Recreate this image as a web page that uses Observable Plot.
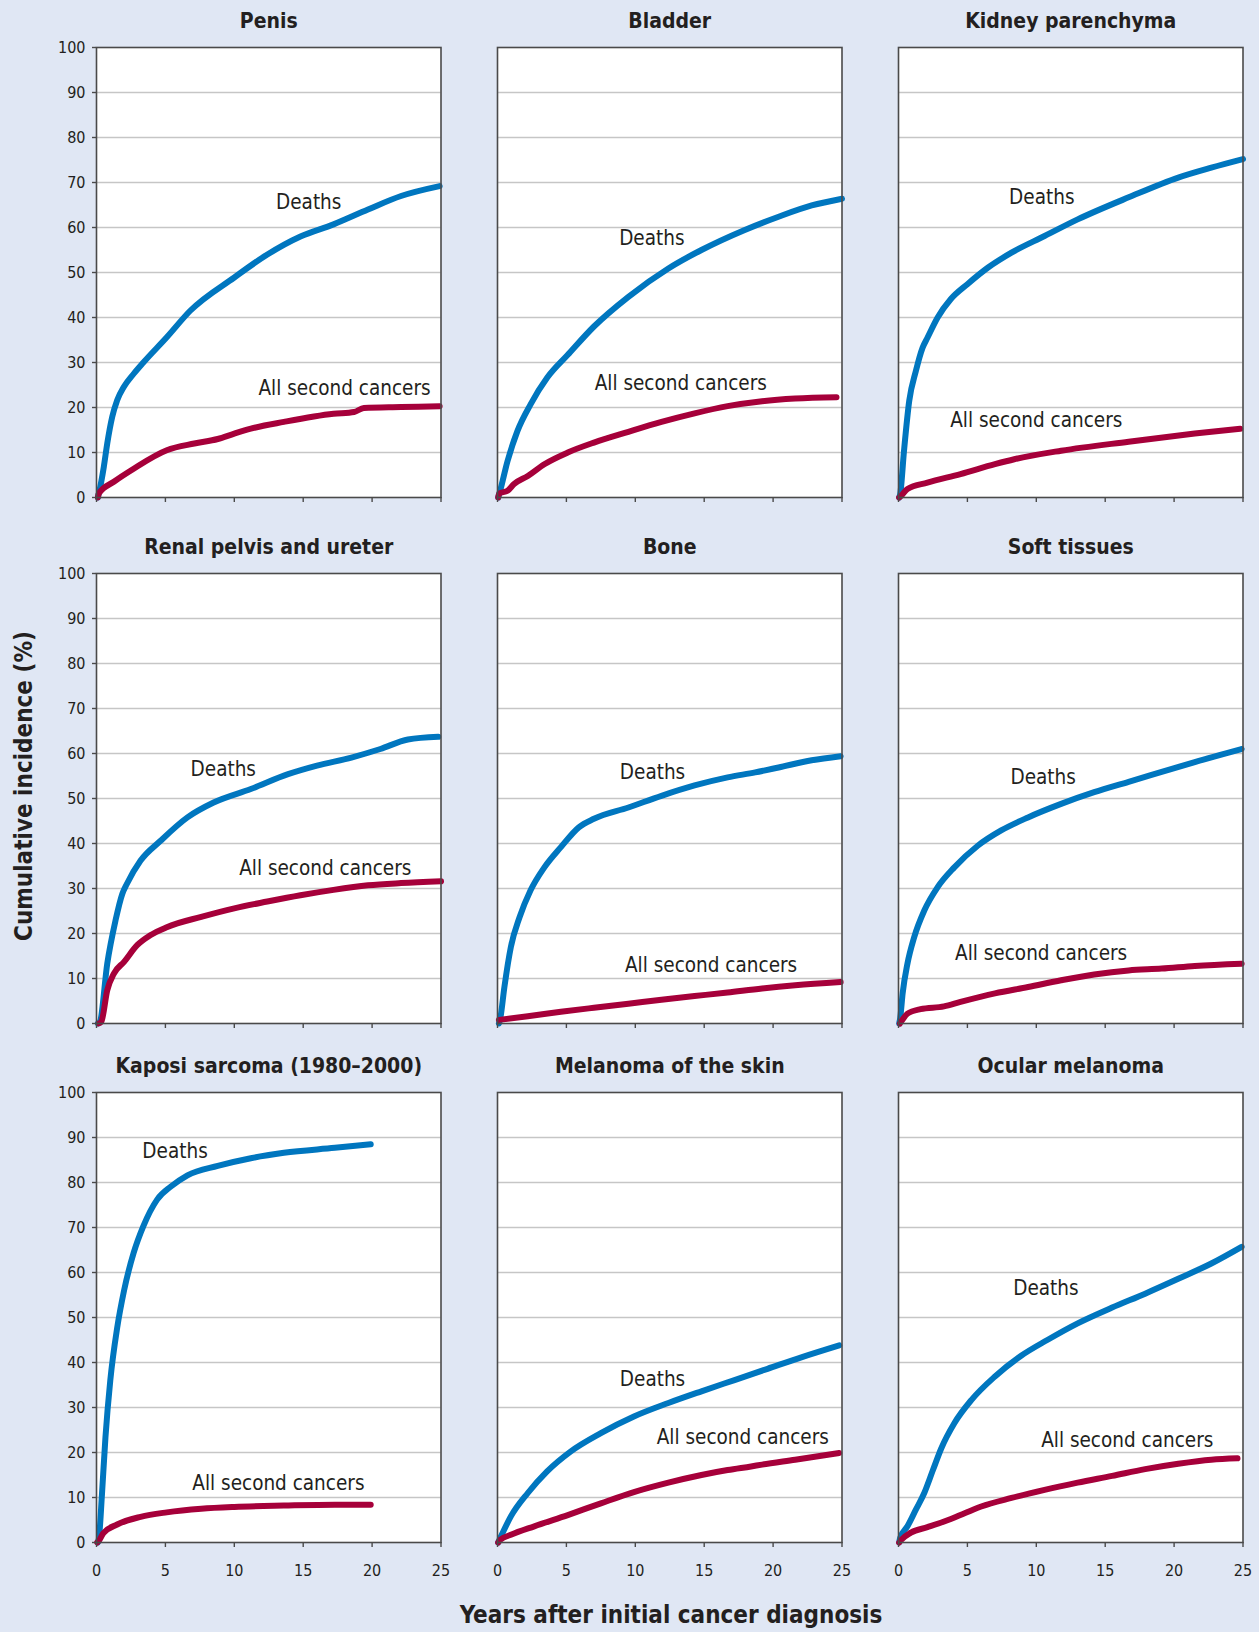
<!DOCTYPE html>
<html>
<head>
<meta charset="utf-8">
<script src="https://cdn.jsdelivr.net/npm/d3@7"></script>
<script src="https://cdn.jsdelivr.net/npm/@observablehq/plot@0.6"></script>
<style>
  html, body { margin: 0; padding: 0; background: #e0e7f4; }
  #wrap { position: relative; width: 1259px; height: 1632px; background: #e0e7f4; overflow: hidden;
          font-family: "Liberation Sans Narrow", "DejaVu Sans Condensed", "Roboto", sans-serif; font-stretch: condensed; }
  .panel { position: absolute; }
  .ylab { position: absolute; left: 24px; top: 786px; transform: translate(-50%, -50%) rotate(-90deg);
          white-space: nowrap; font-weight: bold; font-size: 24px; color: #231f20; }
  .xlab { position: absolute; left: 671px; top: 1615px; transform: translate(-50%, -50%);
          white-space: nowrap; font-weight: bold; font-size: 24px; color: #231f20; }
</style>
</head>
<body>
<div id="wrap">
  <div class="ylab">Cumulative incidence (%)</div>
  <div class="xlab">Years after initial cancer diagnosis</div>
</div>
<script>
// ---- Data: [years after diagnosis, cumulative incidence %] ----
const panelTitles = ["Penis", "Bladder", "Kidney parenchyma",
  "Renal pelvis and ureter", "Bone", "Soft tissues",
  "Kaposi sarcoma (1980\u20132000)", "Melanoma of the skin", "Ocular melanoma"];

const penisDeaths = [[0.1,0],[0.17,0.9],[0.53,6.8],[0.78,12],[1.14,17.9],[1.5,21.6],[1.99,24.6],[2.7,27.5],[3.4,30],[5.1,35.6],[6.8,41.5],[10,48.9],[12.4,54],[14.8,58],[17.2,60.7],[19.7,64],[22.1,67],[24.9,69.2]];
const penisSecond = [[0.1,0],[0.17,0.9],[1.26,3.5],[2.7,6.4],[5.1,10.5],[7.1,12],[8.8,13],[10,14.2],[11.2,15.3],[13.6,16.8],[17.2,18.6],[18.7,19.0],[19.4,19.9],[22.1,20.1],[24.9,20.3]];

const bladderDeaths = [[0.05,0],[0.12,0.7],[0.73,8.1],[1.45,14.8],[2.4,20.7],[3.6,26.6],[5.1,31.7],[7.0,38],[9.5,44.6],[12.4,50.9],[14.8,55],[17.9,59.4],[20.4,62.4],[22.8,64.9],[25,66.4]];
const bladderSecond = [[0.05,0],[0.12,0.9],[0.73,1.5],[1.2,3.0],[2.2,4.8],[3.4,7.4],[5.1,10],[7,12.2],[9.5,14.6],[11.9,16.8],[14.3,18.7],[16.7,20.3],[19.2,21.4],[21.6,22],[24.6,22.3]];

const kidneyDeaths = [[0.05,0],[0.12,0.7],[0.4,10.4],[0.78,21.5],[1.26,28.1],[1.75,33.3],[2.1,35.5],[2.84,40],[3.8,44.1],[5.0,47.4],[6.5,51.1],[8.2,54.4],[10.6,58.1],[13.0,61.8],[16.7,66.7],[20.3,71.1],[22.7,73.3],[25,75.2]];
const kidneySecond = [[0.05,0],[0.2,0.4],[0.65,1.9],[2.1,3.3],[4.5,5.2],[7.0,7.4],[8.4,8.5],[11.8,10.4],[16.7,12.4],[21.5,14.2],[24.8,15.3]];

const renalDeaths = [[0.1,0],[0.25,0.4],[0.78,13.3],[1.38,22.9],[1.87,28.8],[2.2,31],[3.2,36.2],[4.65,40.6],[6.6,45.8],[8.5,49.1],[11.2,52.1],[13.9,55.4],[16.0,57.3],[18.5,59.1],[20.6,61],[22.6,63.1],[24.8,63.7]];
const renalSecond = [[0.15,0],[0.35,0.4],[0.78,7.4],[1.26,11.1],[2,13.7],[2.95,17.4],[3.9,19.6],[5.1,21.4],[7.6,23.7],[10.0,25.6],[12.4,27.1],[14.8,28.5],[17.2,29.7],[19.7,30.7],[22.1,31.2],[25,31.6]];

const boneDeaths = [[0.1,0],[0.2,1.1],[0.5,8.1],[0.97,17],[1.6,23.6],[2.4,29.6],[3.4,34.7],[4.6,39.2],[5.9,43.6],[7.0,45.5],[9.5,48],[11.9,50.6],[14.3,52.9],[16.7,54.7],[18.7,55.8],[20.4,56.9],[22.8,58.5],[24.9,59.4]];
const boneSecond = [[0.1,0.8],[2.2,1.6],[4.6,2.6],[7.0,3.5],[9.5,4.4],[11.9,5.3],[14.3,6.1],[16.7,6.9],[19.2,7.8],[21.6,8.5],[24.9,9.2]];

const softDeaths = [[0.05,0],[0.12,1.1],[0.3,6.7],[0.65,13.3],[1.14,19.2],[1.87,25.1],[2.84,30.3],[4.05,34.7],[5.75,39.5],[7.45,42.9],[9.4,45.8],[11.8,48.8],[14.2,51.4],[16.7,53.7],[19.1,55.9],[21.5,58.1],[24.9,61]];
const softSecond = [[0.1,0],[0.3,0.9],[0.65,2.2],[1.6,3.2],[3.3,3.8],[4.5,4.8],[7.0,6.7],[9.4,8.1],[11.8,9.6],[14.2,10.9],[16.7,11.8],[19.1,12.2],[21.5,12.8],[24.9,13.3]];

const kaposiDeaths = [[0.1,0],[0.17,0.8],[0.4,10.9],[0.65,23.4],[1.0,36],[1.5,47.7],[2.0,56],[2.7,64.4],[3.4,70.3],[4.4,76.2],[5.4,79.1],[6.6,81.6],[8.8,83.7],[11.2,85.4],[13.6,86.6],[17.3,87.7],[19.9,88.5]];
const kaposiSecond = [[0.05,0],[0.2,0.5],[0.5,2.1],[1.5,4],[3.2,5.7],[5.1,6.7],[7.6,7.5],[10,7.9],[13.6,8.2],[17.3,8.4],[19.9,8.4]];

const melanomaDeaths = [[0.05,0],[0.2,1],[0.97,5.8],[2.2,11],[3.6,15.8],[5.3,20.2],[7.5,24.3],[9.9,28],[12.4,31],[14.8,33.6],[17.2,36.1],[19.6,38.6],[22.1,41.2],[24.8,43.8]];
const melanomaSecond = [[0.05,0],[0.2,0.6],[0.97,1.7],[2.67,3.6],[5.1,6.1],[7.5,8.7],[9.9,11.2],[12.4,13.3],[14.8,15],[16.7,16.1],[18.4,16.9],[19.2,17.3],[21.6,18.4],[24.8,19.9]];

const ocularDeaths = [[0.05,0],[0.12,1],[0.65,3.6],[1.26,7.3],[1.87,11],[2.5,16.1],[3.1,20.9],[4.05,26.5],[5.3,31.7],[7,36.9],[8.9,41.5],[10.8,45],[13.0,48.7],[15.5,52.2],[17.9,55.3],[20.3,58.6],[22.7,62],[24.9,65.7]];
const ocularSecond = [[0.05,0],[0.2,0.6],[0.9,2.2],[2.1,3.4],[3.6,5],[4.8,6.5],[6,8],[8.2,9.9],[10.6,11.7],[13,13.3],[15.5,14.8],[17.9,16.3],[20.3,17.5],[22.7,18.4],[24.6,18.7]];

const deathsSeries = [penisDeaths, bladderDeaths, kidneyDeaths, renalDeaths, boneDeaths, softDeaths, kaposiDeaths, melanomaDeaths, ocularDeaths];
const secondSeries = [penisSecond, bladderSecond, kidneySecond, renalSecond, boneSecond, softSecond, kaposiSecond, melanomaSecond, ocularSecond];

// label anchor points (years, %) for "Deaths" and "All second cancers"
const deathsLabelAt = [[15.4,65.6],[11.2,57.5],[10.4,66.7],[9.2,56.4],[11.25,55.9],[10.5,54.7],[5.7,87.0],[11.25,36.3],[10.7,56.5]];
const secondLabelAt = [[18.0,24.2],[13.3,25.4],[10.0,17.1],[16.6,34.4],[15.5,12.9],[10.35,15.5],[13.2,13.2],[17.8,23.4],[16.6,22.7]];

const xTicks = [0, 5, 10, 15, 20, 25];
const yTicks = [0, 10, 20, 30, 40, 50, 60, 70, 80, 90, 100];
const gridValues = [10, 20, 30, 40, 50, 60, 70, 80, 90];

// ---- Layout ----
const BLUE = "#0076bf", RED = "#a6003a", INK = "#231f20";
const FONT = '"Liberation Sans Narrow", "DejaVu Sans Condensed", Roboto, sans-serif';
const frameLefts = [95.5, 496.5, 897.5];
const frameTops = [47, 572.5, 1091.5];
const ML = 52, MR = 12, MT = 50, MB = 50, FW = 344.5, FH = 450;

const wrap = document.getElementById("wrap");
for (let i = 0; i < 9; i++) {
  const col = i % 3, row = Math.floor(i / 3);
  const toObj = a => a.map(([t, v]) => ({t, v}));
  const marks = [
    Plot.frame({fill: "white", stroke: null}),
    Plot.gridY(gridValues, {stroke: "#c6c6c6", strokeOpacity: 1, strokeWidth: 1.5}),
    Plot.line(toObj(deathsSeries[i]), {x: "t", y: "v", stroke: BLUE, strokeWidth: 6, curve: "monotone-x", strokeLinecap: "round", strokeLinejoin: "round"}),
    Plot.line(toObj(secondSeries[i]), {x: "t", y: "v", stroke: RED, strokeWidth: 6, curve: "monotone-x", strokeLinecap: "round", strokeLinejoin: "round"}),
    Plot.frame({stroke: "#4a4a4a", strokeWidth: 1.6}),
    Plot.axisX({ticks: xTicks, tickSize: 5, stroke: "#4a4a4a", strokeWidth: 1.4, tickFormat: () => "", label: null}),
    Plot.text([deathsLabelAt[i]], {x: d => d[0], y: d => d[1], text: () => "Deaths", fontSize: 20.5, fill: INK, textAnchor: "middle", lineAnchor: "middle"}),
    Plot.text([secondLabelAt[i]], {x: d => d[0], y: d => d[1], text: () => "All second cancers", fontSize: 20.5, fill: INK, textAnchor: "middle", lineAnchor: "middle"}),
    Plot.text([panelTitles[i]], {frameAnchor: "top", dy: -26, text: d => d, fontSize: 21, fontWeight: "bold", fill: INK, lineAnchor: "middle"})
  ];
  if (row === 2) {
    marks.push(Plot.text(xTicks, {x: d => d, frameAnchor: "bottom", dy: 28, text: d => String(d), fontSize: 16, fill: INK, lineAnchor: "middle", textAnchor: "middle"}));
  }
  if (col === 0) {
    marks.push(Plot.axisY({ticks: yTicks, tickSize: 4, stroke: "#4a4a4a", strokeWidth: 1.4, tickFormat: () => "", label: null}));
    marks.push(Plot.text(yTicks, {y: d => d, frameAnchor: "left", dx: -11, text: d => String(d), fontSize: 16, fill: INK, lineAnchor: "middle", textAnchor: "end"}));
  }
  const chart = Plot.plot({
    width: ML + FW + MR,
    height: MT + FH + MB,
    marginLeft: ML, marginRight: MR, marginTop: MT, marginBottom: MB,
    x: {domain: [0, 25], axis: null},
    y: {domain: [0, 100], axis: null},
    style: {fontFamily: FONT, fontStretch: "condensed", fontSize: "16px", background: "transparent", overflow: "visible"},
    marks
  });
  chart.classList.add("panel");
  chart.style.left = (frameLefts[col] - ML) + "px";
  chart.style.top = (frameTops[row] - MT) + "px";
  chart.style.position = "absolute";
  wrap.appendChild(chart);
}
</script>
</body>
</html>
